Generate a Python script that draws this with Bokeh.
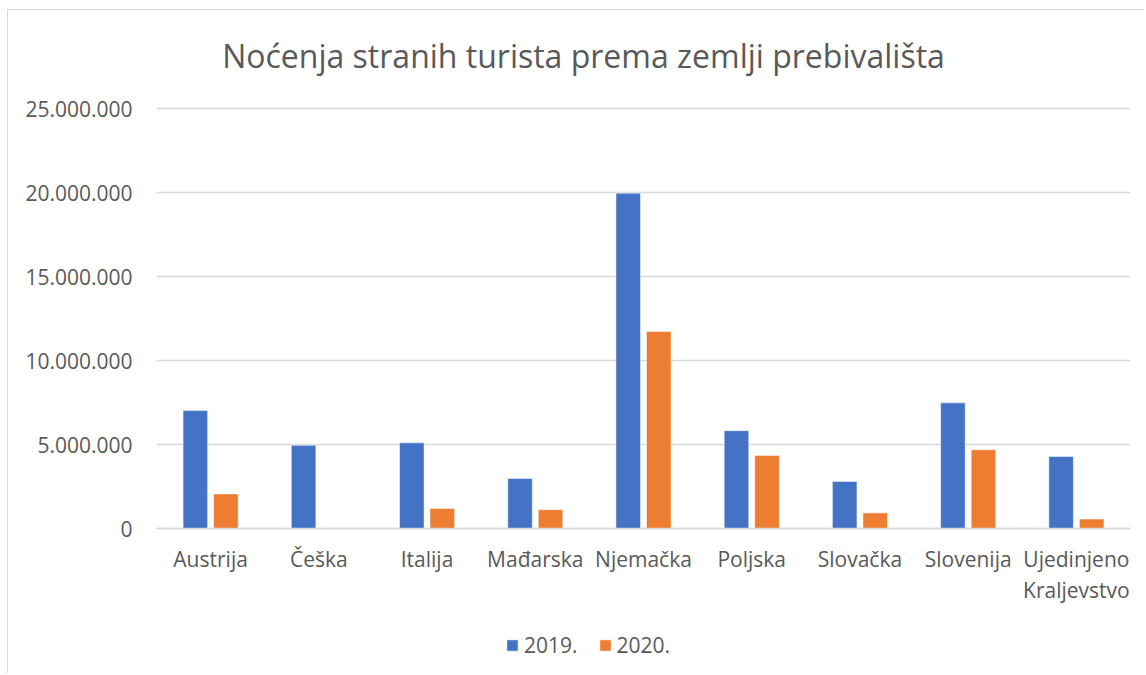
from bokeh.plotting import figure
from bokeh.models import (ColumnDataSource, Range1d, FixedTicker, Legend, LegendItem,
                          LinearAxis, Label)
from bokeh.transform import dodge
from bokeh.embed import file_html
from bokeh.resources import INLINE

categories = ["Austrija", "Češka", "Italija", "Mađarska", "Njemačka", "Poljska",
              "Slovačka", "Slovenija", "Ujedinjeno Kraljevstvo"]
values_2019 = [7030000, 4950000, 5100000, 2980000, 19960000, 5820000, 2800000, 7480000, 4290000]
values_2020 = [2060000, 0, 1190000, 1120000, 11730000, 4340000, 930000, 4690000, 560000]
series_names = ["2019.", "2020."]
y_ticks = [0, 5000000, 10000000, 15000000, 20000000, 25000000]
y_tick_labels = ["0", "5.000.000", "10.000.000", "15.000.000", "20.000.000", "25.000.000"]
title_text = "Noćenja stranih turista prema zemlji prebivališta"

FONT = "Open Sans"
TXT = "#595959"
GRID = "#d9d9d9"
FS = "21px"

idx = list(range(len(categories)))
src = ColumnDataSource(dict(x=idx, cat=categories, v2019=values_2019, v2020=values_2020))

W, H = 1137, 664
# frame fills the whole canvas height: 84 px per 5M, zero 518 px below the top
px_per_unit = 84 / 5000000
zero_px = 518
y_end = zero_px / px_per_unit
y_start = -(H - zero_px) / px_per_unit

p = figure(width=W, height=H, x_range=Range1d(-0.5, len(categories) - 0.5),
           y_range=Range1d(y_start, y_end), output_backend="svg", toolbar_location=None,
           min_border_left=148, min_border_right=15, min_border_top=0,
           min_border_bottom=0)
p.styles = {"margin-left": "7px", "margin-top": "9px",
            "border-left": "1px solid #d9d9d9", "border-top": "1px solid #d9d9d9"}
p.outline_line_color = None
p.background_fill_color = "white"

r1 = p.vbar(x=dodge("x", -0.141), top="v2019", width=0.227,
            source=src, fill_color="#4472C4", line_color="white", line_width=0.5)
r2 = p.vbar(x=dodge("x", 0.141), top="v2020", width=0.227,
            source=src, fill_color="#ED7D31", line_color="white", line_width=0.5)

p.xgrid.grid_line_color = None
p.ygrid.grid_line_color = GRID
p.ygrid.grid_line_width = 1.5
p.ygrid.ticker = FixedTicker(ticks=y_ticks)

p.yaxis.ticker = FixedTicker(ticks=y_ticks)
p.yaxis.major_label_overrides = {t: l for t, l in zip(y_ticks, y_tick_labels)}
p.yaxis.axis_line_color = None
p.yaxis.major_tick_line_color = None
p.yaxis.minor_tick_line_color = None
p.yaxis.major_tick_out = 0
p.yaxis.major_tick_in = 0
p.yaxis.major_label_standoff = 24
p.yaxis.major_label_text_font = FONT
p.yaxis.major_label_text_font_size = FS
p.yaxis.major_label_text_color = TXT

first_line = [c.split(" ")[0] for c in categories]
second_line = {i: " ".join(c.split(" ")[1:]) for i, c in enumerate(categories) if " " in c}

xa = p.xaxis[0]
xa.ticker = FixedTicker(ticks=idx)
xa.major_label_overrides = {i: l for i, l in zip(idx, first_line)}
xa.fixed_location = 0
xa.axis_line_color = GRID
xa.axis_line_width = 1.5
xa.major_tick_line_color = None
xa.minor_tick_line_color = None
xa.major_tick_out = 0
xa.major_tick_in = 0
xa.major_label_standoff = 16
xa.major_label_text_font = FONT
xa.major_label_text_font_size = FS
xa.major_label_text_color = TXT

xa2 = LinearAxis(ticker=FixedTicker(ticks=list(second_line.keys())),
                 major_label_overrides=second_line, fixed_location=0,
                 axis_line_color=None, major_tick_line_color=None,
                 minor_tick_line_color=None, major_tick_out=0, major_tick_in=0,
                 major_label_standoff=47, major_label_text_font=FONT,
                 major_label_text_font_size=FS, major_label_text_color=TXT)
p.add_layout(xa2, "below")

title = Label(x=427, y=H - 45, x_units="screen", y_units="screen", text=title_text,
              text_font=FONT, text_font_size="32px", text_color=TXT,
              text_align="center", text_baseline="alphabetic")
p.add_layout(title)

legend = Legend(items=[LegendItem(label=series_names[0], renderers=[r1]),
                       LegendItem(label=series_names[1], renderers=[r2])],
                orientation="horizontal", location=(349, 15),
                glyph_width=14, glyph_height=14, label_height=20, label_standoff=5,
                spacing=20, padding=0, margin=0, border_line_color=None,
                background_fill_alpha=0,
                label_text_font=FONT, label_text_font_size=FS, label_text_color=TXT)
p.add_layout(legend)

open("out.html", "w").write(file_html(p, INLINE))
